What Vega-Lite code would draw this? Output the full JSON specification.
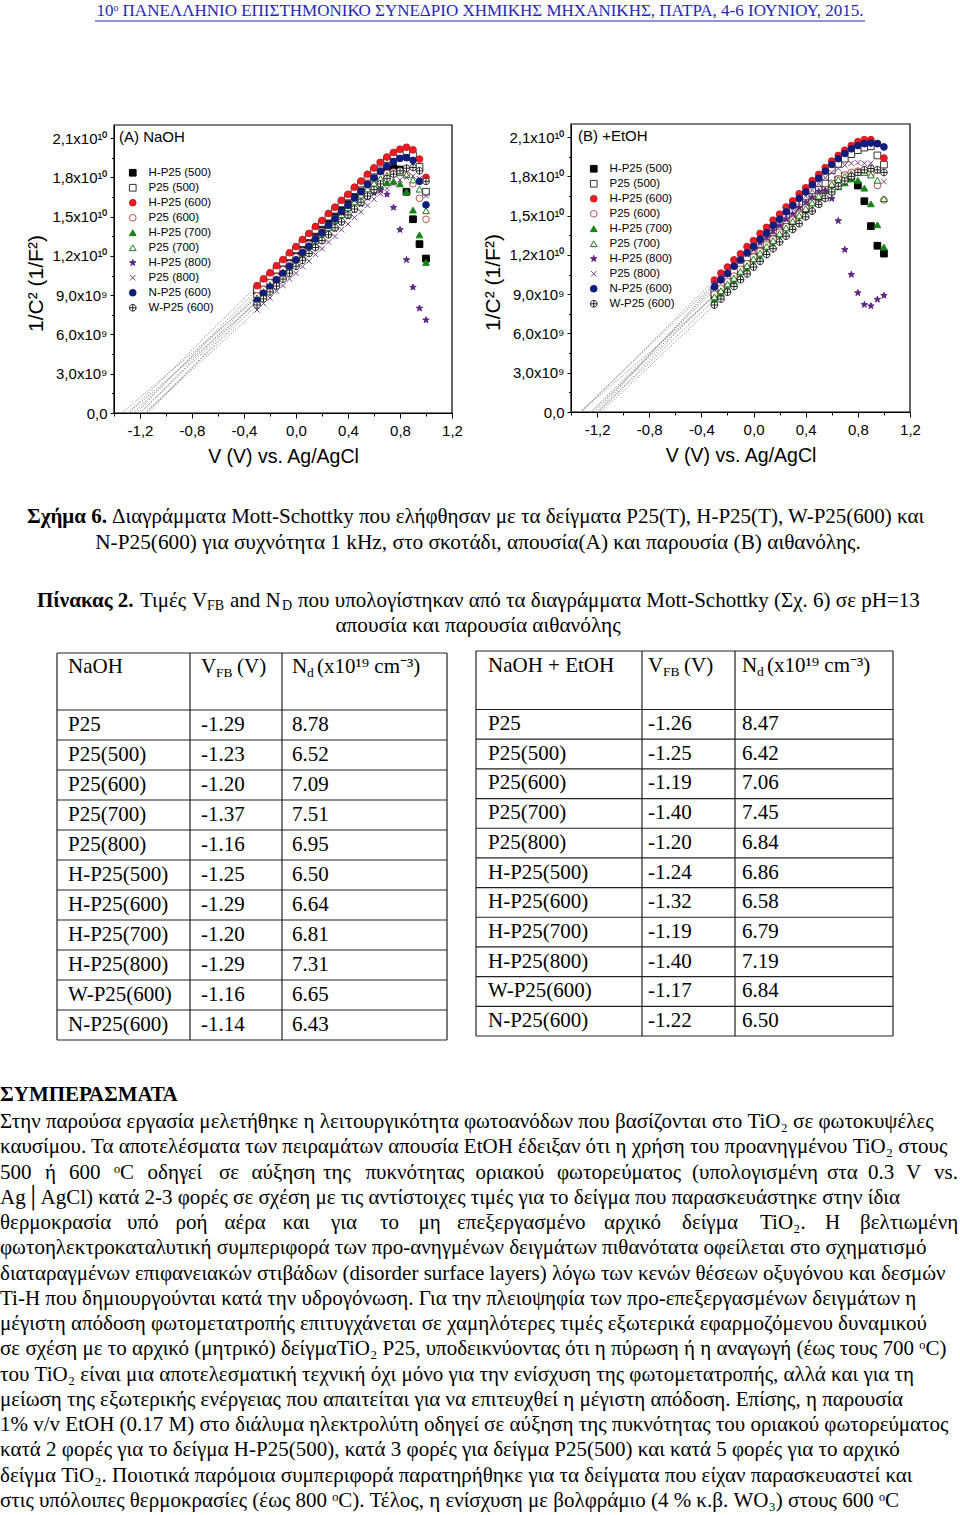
{
"$schema":"https://vega.github.io/schema/vega-lite/v6.json",
"width":960,"height":1515,"padding":0,"autosize":{"type":"none"},"background":"white",
"config":{"view":{"stroke":null},"axis":{"grid":false,"domainColor":"#000","tickColor":"#000","labelColor":"#000","titleColor":"#000","labelFont":"Liberation Sans","titleFont":"Liberation Sans","titleFontWeight":"normal"},"legend":{"labelFont":"Liberation Sans","titleFont":"Liberation Sans","titleFontWeight":"normal","labelColor":"#000","titleColor":"#000"}},
"datasets":{
"ptsA":[
{"s":"H-P25 (500)","v":-0.3,"c":9.10e9},{"s":"H-P25 (500)","v":-0.25,"c":9.62e9},{"s":"H-P25 (500)","v":-0.2,"c":10.06e9},{"s":"H-P25 (500)","v":-0.15,"c":10.58e9},{"s":"H-P25 (500)","v":-0.1,"c":11.04e9},{"s":"H-P25 (500)","v":-0.05,"c":11.57e9},{"s":"H-P25 (500)","v":0,"c":12.02e9},{"s":"H-P25 (500)","v":0.05,"c":12.55e9},{"s":"H-P25 (500)","v":0.1,"c":13.00e9},{"s":"H-P25 (500)","v":0.15,"c":13.52e9},{"s":"H-P25 (500)","v":0.2,"c":13.98e9},{"s":"H-P25 (500)","v":0.25,"c":14.51e9},{"s":"H-P25 (500)","v":0.3,"c":14.96e9},{"s":"H-P25 (500)","v":0.35,"c":15.49e9},{"s":"H-P25 (500)","v":0.4,"c":15.95e9},{"s":"H-P25 (500)","v":0.45,"c":16.47e9},{"s":"H-P25 (500)","v":0.5,"c":16.92e9},{"s":"H-P25 (500)","v":0.55,"c":17.44e9},{"s":"H-P25 (500)","v":0.6,"c":17.90e9},{"s":"H-P25 (500)","v":0.65,"c":18.30e9},{"s":"H-P25 (500)","v":0.7,"c":18.55e9},{"s":"H-P25 (500)","v":0.75,"c":18.70e9},{"s":"H-P25 (500)","v":0.8,"c":18.60e9},{"s":"H-P25 (500)","v":0.85,"c":16.90e9},{"s":"H-P25 (500)","v":0.9,"c":14.80e9},{"s":"H-P25 (500)","v":0.95,"c":12.90e9},{"s":"H-P25 (500)","v":1,"c":11.80e9},
{"s":"P25 (500)","v":-0.3,"c":9.45e9},{"s":"P25 (500)","v":-0.25,"c":9.94e9},{"s":"P25 (500)","v":-0.2,"c":10.47e9},{"s":"P25 (500)","v":-0.15,"c":10.95e9},{"s":"P25 (500)","v":-0.1,"c":11.49e9},{"s":"P25 (500)","v":-0.05,"c":11.97e9},{"s":"P25 (500)","v":0,"c":12.50e9},{"s":"P25 (500)","v":0.05,"c":12.98e9},{"s":"P25 (500)","v":0.1,"c":13.50e9},{"s":"P25 (500)","v":0.15,"c":13.99e9},{"s":"P25 (500)","v":0.2,"c":14.52e9},{"s":"P25 (500)","v":0.25,"c":15.00e9},{"s":"P25 (500)","v":0.3,"c":15.53e9},{"s":"P25 (500)","v":0.35,"c":16.01e9},{"s":"P25 (500)","v":0.4,"c":16.54e9},{"s":"P25 (500)","v":0.45,"c":17.02e9},{"s":"P25 (500)","v":0.5,"c":17.53e9},{"s":"P25 (500)","v":0.55,"c":18.05e9},{"s":"P25 (500)","v":0.6,"c":18.52e9},{"s":"P25 (500)","v":0.65,"c":19.05e9},{"s":"P25 (500)","v":0.7,"c":19.40e9},{"s":"P25 (500)","v":0.75,"c":19.70e9},{"s":"P25 (500)","v":0.8,"c":19.90e9},{"s":"P25 (500)","v":0.85,"c":20.00e9},{"s":"P25 (500)","v":0.9,"c":19.70e9},{"s":"P25 (500)","v":0.95,"c":18.80e9},{"s":"P25 (500)","v":1,"c":16.90e9},
{"s":"H-P25 (600)","v":-0.3,"c":9.73e9},{"s":"H-P25 (600)","v":-0.25,"c":10.25e9},{"s":"H-P25 (600)","v":-0.2,"c":10.71e9},{"s":"H-P25 (600)","v":-0.15,"c":11.25e9},{"s":"H-P25 (600)","v":-0.1,"c":11.72e9},{"s":"H-P25 (600)","v":-0.05,"c":12.24e9},{"s":"H-P25 (600)","v":0,"c":12.71e9},{"s":"H-P25 (600)","v":0.05,"c":13.25e9},{"s":"H-P25 (600)","v":0.1,"c":13.72e9},{"s":"H-P25 (600)","v":0.15,"c":14.25e9},{"s":"H-P25 (600)","v":0.2,"c":14.71e9},{"s":"H-P25 (600)","v":0.25,"c":15.24e9},{"s":"H-P25 (600)","v":0.3,"c":15.72e9},{"s":"H-P25 (600)","v":0.35,"c":16.25e9},{"s":"H-P25 (600)","v":0.4,"c":16.71e9},{"s":"H-P25 (600)","v":0.45,"c":17.25e9},{"s":"H-P25 (600)","v":0.5,"c":17.72e9},{"s":"H-P25 (600)","v":0.55,"c":18.24e9},{"s":"H-P25 (600)","v":0.6,"c":18.72e9},{"s":"H-P25 (600)","v":0.65,"c":19.15e9},{"s":"H-P25 (600)","v":0.7,"c":19.55e9},{"s":"H-P25 (600)","v":0.75,"c":19.90e9},{"s":"H-P25 (600)","v":0.8,"c":20.15e9},{"s":"H-P25 (600)","v":0.85,"c":20.30e9},{"s":"H-P25 (600)","v":0.9,"c":20.10e9},{"s":"H-P25 (600)","v":0.95,"c":19.40e9},{"s":"H-P25 (600)","v":1,"c":18.00e9},
{"s":"P25 (600)","v":-0.3,"c":8.95e9},{"s":"P25 (600)","v":-0.25,"c":9.42e9},{"s":"P25 (600)","v":-0.2,"c":9.95e9},{"s":"P25 (600)","v":-0.15,"c":10.40e9},{"s":"P25 (600)","v":-0.1,"c":10.93e9},{"s":"P25 (600)","v":-0.05,"c":11.38e9},{"s":"P25 (600)","v":0,"c":11.91e9},{"s":"P25 (600)","v":0.05,"c":12.36e9},{"s":"P25 (600)","v":0.1,"c":12.89e9},{"s":"P25 (600)","v":0.15,"c":13.34e9},{"s":"P25 (600)","v":0.2,"c":13.87e9},{"s":"P25 (600)","v":0.25,"c":14.32e9},{"s":"P25 (600)","v":0.3,"c":14.85e9},{"s":"P25 (600)","v":0.35,"c":15.30e9},{"s":"P25 (600)","v":0.4,"c":15.83e9},{"s":"P25 (600)","v":0.45,"c":16.28e9},{"s":"P25 (600)","v":0.5,"c":16.80e9},{"s":"P25 (600)","v":0.55,"c":17.27e9},{"s":"P25 (600)","v":0.6,"c":17.76e9},{"s":"P25 (600)","v":0.65,"c":18.10e9},{"s":"P25 (600)","v":0.7,"c":18.30e9},{"s":"P25 (600)","v":0.75,"c":18.40e9},{"s":"P25 (600)","v":0.8,"c":18.40e9},{"s":"P25 (600)","v":0.85,"c":18.20e9},{"s":"P25 (600)","v":0.9,"c":17.50e9},{"s":"P25 (600)","v":0.95,"c":16.40e9},{"s":"P25 (600)","v":1,"c":14.80e9},
{"s":"H-P25 (700)","v":-0.3,"c":8.60e9},{"s":"H-P25 (700)","v":-0.25,"c":9.09e9},{"s":"H-P25 (700)","v":-0.2,"c":9.52e9},{"s":"H-P25 (700)","v":-0.15,"c":10.03e9},{"s":"H-P25 (700)","v":-0.1,"c":10.46e9},{"s":"H-P25 (700)","v":-0.05,"c":10.97e9},{"s":"H-P25 (700)","v":0,"c":11.40e9},{"s":"H-P25 (700)","v":0.05,"c":11.91e9},{"s":"H-P25 (700)","v":0.1,"c":12.34e9},{"s":"H-P25 (700)","v":0.15,"c":12.85e9},{"s":"H-P25 (700)","v":0.2,"c":13.28e9},{"s":"H-P25 (700)","v":0.25,"c":13.79e9},{"s":"H-P25 (700)","v":0.3,"c":14.22e9},{"s":"H-P25 (700)","v":0.35,"c":14.73e9},{"s":"H-P25 (700)","v":0.4,"c":15.16e9},{"s":"H-P25 (700)","v":0.45,"c":15.67e9},{"s":"H-P25 (700)","v":0.5,"c":16.10e9},{"s":"H-P25 (700)","v":0.55,"c":16.60e9},{"s":"H-P25 (700)","v":0.6,"c":17.00e9},{"s":"H-P25 (700)","v":0.65,"c":17.35e9},{"s":"H-P25 (700)","v":0.7,"c":17.60e9},{"s":"H-P25 (700)","v":0.75,"c":17.70e9},{"s":"H-P25 (700)","v":0.8,"c":17.50e9},{"s":"H-P25 (700)","v":0.85,"c":16.90e9},{"s":"H-P25 (700)","v":0.9,"c":15.50e9},{"s":"H-P25 (700)","v":0.95,"c":13.60e9},{"s":"H-P25 (700)","v":1,"c":11.50e9},
{"s":"P25 (700)","v":-0.3,"c":8.80e9},{"s":"P25 (700)","v":-0.25,"c":9.27e9},{"s":"P25 (700)","v":-0.2,"c":9.80e9},{"s":"P25 (700)","v":-0.15,"c":10.25e9},{"s":"P25 (700)","v":-0.1,"c":10.78e9},{"s":"P25 (700)","v":-0.05,"c":11.23e9},{"s":"P25 (700)","v":0,"c":11.76e9},{"s":"P25 (700)","v":0.05,"c":12.21e9},{"s":"P25 (700)","v":0.1,"c":12.74e9},{"s":"P25 (700)","v":0.15,"c":13.19e9},{"s":"P25 (700)","v":0.2,"c":13.72e9},{"s":"P25 (700)","v":0.25,"c":14.17e9},{"s":"P25 (700)","v":0.3,"c":14.70e9},{"s":"P25 (700)","v":0.35,"c":15.15e9},{"s":"P25 (700)","v":0.4,"c":15.68e9},{"s":"P25 (700)","v":0.45,"c":16.13e9},{"s":"P25 (700)","v":0.5,"c":16.65e9},{"s":"P25 (700)","v":0.55,"c":17.12e9},{"s":"P25 (700)","v":0.6,"c":17.55e9},{"s":"P25 (700)","v":0.65,"c":17.90e9},{"s":"P25 (700)","v":0.7,"c":18.15e9},{"s":"P25 (700)","v":0.75,"c":18.30e9},{"s":"P25 (700)","v":0.8,"c":18.35e9},{"s":"P25 (700)","v":0.85,"c":18.20e9},{"s":"P25 (700)","v":0.9,"c":17.80e9},{"s":"P25 (700)","v":0.95,"c":17.10e9},{"s":"P25 (700)","v":1,"c":15.45e9},
{"s":"H-P25 (800)","v":-0.3,"c":8.45e9},{"s":"H-P25 (800)","v":-0.25,"c":8.94e9},{"s":"H-P25 (800)","v":-0.2,"c":9.37e9},{"s":"H-P25 (800)","v":-0.15,"c":9.88e9},{"s":"H-P25 (800)","v":-0.1,"c":10.31e9},{"s":"H-P25 (800)","v":-0.05,"c":10.82e9},{"s":"H-P25 (800)","v":0,"c":11.25e9},{"s":"H-P25 (800)","v":0.05,"c":11.76e9},{"s":"H-P25 (800)","v":0.1,"c":12.19e9},{"s":"H-P25 (800)","v":0.15,"c":12.70e9},{"s":"H-P25 (800)","v":0.2,"c":13.13e9},{"s":"H-P25 (800)","v":0.25,"c":13.64e9},{"s":"H-P25 (800)","v":0.3,"c":14.07e9},{"s":"H-P25 (800)","v":0.35,"c":14.58e9},{"s":"H-P25 (800)","v":0.4,"c":15.01e9},{"s":"H-P25 (800)","v":0.45,"c":15.52e9},{"s":"H-P25 (800)","v":0.5,"c":15.95e9},{"s":"H-P25 (800)","v":0.55,"c":16.45e9},{"s":"H-P25 (800)","v":0.6,"c":16.80e9},{"s":"H-P25 (800)","v":0.65,"c":17.00e9},{"s":"H-P25 (800)","v":0.7,"c":16.70e9},{"s":"H-P25 (800)","v":0.75,"c":15.70e9},{"s":"H-P25 (800)","v":0.8,"c":14.00e9},{"s":"H-P25 (800)","v":0.85,"c":11.70e9},{"s":"H-P25 (800)","v":0.9,"c":9.60e9},{"s":"H-P25 (800)","v":0.95,"c":8.00e9},{"s":"H-P25 (800)","v":1,"c":7.10e9},
{"s":"P25 (800)","v":-0.3,"c":7.87e9},{"s":"P25 (800)","v":-0.25,"c":8.36e9},{"s":"P25 (800)","v":-0.2,"c":8.79e9},{"s":"P25 (800)","v":-0.15,"c":9.30e9},{"s":"P25 (800)","v":-0.1,"c":9.73e9},{"s":"P25 (800)","v":-0.05,"c":10.24e9},{"s":"P25 (800)","v":0,"c":10.67e9},{"s":"P25 (800)","v":0.05,"c":11.18e9},{"s":"P25 (800)","v":0.1,"c":11.61e9},{"s":"P25 (800)","v":0.15,"c":12.12e9},{"s":"P25 (800)","v":0.2,"c":12.55e9},{"s":"P25 (800)","v":0.25,"c":13.06e9},{"s":"P25 (800)","v":0.3,"c":13.49e9},{"s":"P25 (800)","v":0.35,"c":14.00e9},{"s":"P25 (800)","v":0.4,"c":14.43e9},{"s":"P25 (800)","v":0.45,"c":14.94e9},{"s":"P25 (800)","v":0.5,"c":15.37e9},{"s":"P25 (800)","v":0.55,"c":15.87e9},{"s":"P25 (800)","v":0.6,"c":16.33e9},{"s":"P25 (800)","v":0.65,"c":16.75e9},{"s":"P25 (800)","v":0.7,"c":17.15e9},{"s":"P25 (800)","v":0.75,"c":17.50e9},{"s":"P25 (800)","v":0.8,"c":17.80e9},{"s":"P25 (800)","v":0.85,"c":18.00e9},{"s":"P25 (800)","v":0.9,"c":18.10e9},{"s":"P25 (800)","v":0.95,"c":17.90e9},{"s":"P25 (800)","v":1,"c":16.60e9},
{"s":"N-P25 (600)","v":-0.3,"c":8.60e9},{"s":"N-P25 (600)","v":-0.25,"c":9.14e9},{"s":"N-P25 (600)","v":-0.2,"c":9.62e9},{"s":"N-P25 (600)","v":-0.15,"c":10.18e9},{"s":"N-P25 (600)","v":-0.1,"c":10.66e9},{"s":"N-P25 (600)","v":-0.05,"c":11.22e9},{"s":"N-P25 (600)","v":0,"c":11.70e9},{"s":"N-P25 (600)","v":0.05,"c":12.26e9},{"s":"N-P25 (600)","v":0.1,"c":12.74e9},{"s":"N-P25 (600)","v":0.15,"c":13.30e9},{"s":"N-P25 (600)","v":0.2,"c":13.78e9},{"s":"N-P25 (600)","v":0.25,"c":14.34e9},{"s":"N-P25 (600)","v":0.3,"c":14.82e9},{"s":"N-P25 (600)","v":0.35,"c":15.38e9},{"s":"N-P25 (600)","v":0.4,"c":15.86e9},{"s":"N-P25 (600)","v":0.45,"c":16.42e9},{"s":"N-P25 (600)","v":0.5,"c":16.90e9},{"s":"N-P25 (600)","v":0.55,"c":17.45e9},{"s":"N-P25 (600)","v":0.6,"c":17.95e9},{"s":"N-P25 (600)","v":0.65,"c":18.45e9},{"s":"N-P25 (600)","v":0.7,"c":18.85e9},{"s":"N-P25 (600)","v":0.75,"c":19.20e9},{"s":"N-P25 (600)","v":0.8,"c":19.45e9},{"s":"N-P25 (600)","v":0.85,"c":19.50e9},{"s":"N-P25 (600)","v":0.9,"c":19.30e9},{"s":"N-P25 (600)","v":0.95,"c":17.70e9},{"s":"N-P25 (600)","v":1,"c":15.90e9},
{"s":"W-P25 (600)","v":-0.3,"c":8.25e9},{"s":"W-P25 (600)","v":-0.25,"c":8.72e9},{"s":"W-P25 (600)","v":-0.2,"c":9.25e9},{"s":"W-P25 (600)","v":-0.15,"c":9.70e9},{"s":"W-P25 (600)","v":-0.1,"c":10.23e9},{"s":"W-P25 (600)","v":-0.05,"c":10.68e9},{"s":"W-P25 (600)","v":0,"c":11.21e9},{"s":"W-P25 (600)","v":0.05,"c":11.66e9},{"s":"W-P25 (600)","v":0.1,"c":12.19e9},{"s":"W-P25 (600)","v":0.15,"c":12.64e9},{"s":"W-P25 (600)","v":0.2,"c":13.17e9},{"s":"W-P25 (600)","v":0.25,"c":13.62e9},{"s":"W-P25 (600)","v":0.3,"c":14.15e9},{"s":"W-P25 (600)","v":0.35,"c":14.60e9},{"s":"W-P25 (600)","v":0.4,"c":15.13e9},{"s":"W-P25 (600)","v":0.45,"c":15.58e9},{"s":"W-P25 (600)","v":0.5,"c":16.10e9},{"s":"W-P25 (600)","v":0.55,"c":16.57e9},{"s":"W-P25 (600)","v":0.6,"c":17.06e9},{"s":"W-P25 (600)","v":0.65,"c":17.50e9},{"s":"W-P25 (600)","v":0.7,"c":17.90e9},{"s":"W-P25 (600)","v":0.75,"c":18.25e9},{"s":"W-P25 (600)","v":0.8,"c":18.50e9},{"s":"W-P25 (600)","v":0.85,"c":18.70e9},{"s":"W-P25 (600)","v":0.9,"c":18.75e9},{"s":"W-P25 (600)","v":0.95,"c":18.50e9},{"s":"W-P25 (600)","v":1,"c":17.70e9}
],
"ptsB":[
{"s":"H-P25 (500)","v":-0.3,"c":8.95e9},{"s":"H-P25 (500)","v":-0.25,"c":9.44e9},{"s":"H-P25 (500)","v":-0.2,"c":9.87e9},{"s":"H-P25 (500)","v":-0.15,"c":10.38e9},{"s":"H-P25 (500)","v":-0.1,"c":10.81e9},{"s":"H-P25 (500)","v":-0.05,"c":11.32e9},{"s":"H-P25 (500)","v":0,"c":11.75e9},{"s":"H-P25 (500)","v":0.05,"c":12.26e9},{"s":"H-P25 (500)","v":0.1,"c":12.69e9},{"s":"H-P25 (500)","v":0.15,"c":13.20e9},{"s":"H-P25 (500)","v":0.2,"c":13.63e9},{"s":"H-P25 (500)","v":0.25,"c":14.14e9},{"s":"H-P25 (500)","v":0.3,"c":14.57e9},{"s":"H-P25 (500)","v":0.35,"c":15.08e9},{"s":"H-P25 (500)","v":0.4,"c":15.51e9},{"s":"H-P25 (500)","v":0.45,"c":16.02e9},{"s":"H-P25 (500)","v":0.5,"c":16.45e9},{"s":"H-P25 (500)","v":0.55,"c":16.95e9},{"s":"H-P25 (500)","v":0.6,"c":17.41e9},{"s":"H-P25 (500)","v":0.65,"c":17.75e9},{"s":"H-P25 (500)","v":0.7,"c":18.05e9},{"s":"H-P25 (500)","v":0.75,"c":18.00e9},{"s":"H-P25 (500)","v":0.8,"c":17.30e9},{"s":"H-P25 (500)","v":0.85,"c":16.10e9},{"s":"H-P25 (500)","v":0.9,"c":14.20e9},{"s":"H-P25 (500)","v":0.95,"c":12.70e9},{"s":"H-P25 (500)","v":1,"c":12.10e9},
{"s":"P25 (500)","v":-0.3,"c":9.30e9},{"s":"P25 (500)","v":-0.25,"c":9.79e9},{"s":"P25 (500)","v":-0.2,"c":10.34e9},{"s":"P25 (500)","v":-0.15,"c":10.81e9},{"s":"P25 (500)","v":-0.1,"c":11.36e9},{"s":"P25 (500)","v":-0.05,"c":11.83e9},{"s":"P25 (500)","v":0,"c":12.38e9},{"s":"P25 (500)","v":0.05,"c":12.85e9},{"s":"P25 (500)","v":0.1,"c":13.40e9},{"s":"P25 (500)","v":0.15,"c":13.87e9},{"s":"P25 (500)","v":0.2,"c":14.42e9},{"s":"P25 (500)","v":0.25,"c":14.89e9},{"s":"P25 (500)","v":0.3,"c":15.44e9},{"s":"P25 (500)","v":0.35,"c":15.91e9},{"s":"P25 (500)","v":0.4,"c":16.46e9},{"s":"P25 (500)","v":0.45,"c":16.93e9},{"s":"P25 (500)","v":0.5,"c":17.47e9},{"s":"P25 (500)","v":0.55,"c":17.96e9},{"s":"P25 (500)","v":0.6,"c":18.48e9},{"s":"P25 (500)","v":0.65,"c":18.95e9},{"s":"P25 (500)","v":0.7,"c":19.35e9},{"s":"P25 (500)","v":0.75,"c":19.70e9},{"s":"P25 (500)","v":0.8,"c":20.00e9},{"s":"P25 (500)","v":0.85,"c":20.20e9},{"s":"P25 (500)","v":0.9,"c":20.30e9},{"s":"P25 (500)","v":0.95,"c":19.60e9},{"s":"P25 (500)","v":1,"c":18.90e9},
{"s":"H-P25 (600)","v":-0.3,"c":10.08e9},{"s":"H-P25 (600)","v":-0.25,"c":10.61e9},{"s":"H-P25 (600)","v":-0.2,"c":11.07e9},{"s":"H-P25 (600)","v":-0.15,"c":11.62e9},{"s":"H-P25 (600)","v":-0.1,"c":12.08e9},{"s":"H-P25 (600)","v":-0.05,"c":12.63e9},{"s":"H-P25 (600)","v":0,"c":13.09e9},{"s":"H-P25 (600)","v":0.05,"c":13.64e9},{"s":"H-P25 (600)","v":0.1,"c":14.10e9},{"s":"H-P25 (600)","v":0.15,"c":14.65e9},{"s":"H-P25 (600)","v":0.2,"c":15.11e9},{"s":"H-P25 (600)","v":0.25,"c":15.66e9},{"s":"H-P25 (600)","v":0.3,"c":16.12e9},{"s":"H-P25 (600)","v":0.35,"c":16.67e9},{"s":"H-P25 (600)","v":0.4,"c":17.13e9},{"s":"H-P25 (600)","v":0.45,"c":17.68e9},{"s":"H-P25 (600)","v":0.5,"c":18.15e9},{"s":"H-P25 (600)","v":0.55,"c":18.67e9},{"s":"H-P25 (600)","v":0.6,"c":19.17e9},{"s":"H-P25 (600)","v":0.65,"c":19.60e9},{"s":"H-P25 (600)","v":0.7,"c":20.00e9},{"s":"H-P25 (600)","v":0.75,"c":20.35e9},{"s":"H-P25 (600)","v":0.8,"c":20.65e9},{"s":"H-P25 (600)","v":0.85,"c":20.80e9},{"s":"H-P25 (600)","v":0.9,"c":20.80e9},{"s":"H-P25 (600)","v":0.95,"c":20.50e9},{"s":"H-P25 (600)","v":1,"c":19.40e9},
{"s":"P25 (600)","v":-0.3,"c":9.00e9},{"s":"P25 (600)","v":-0.25,"c":9.45e9},{"s":"P25 (600)","v":-0.2,"c":9.96e9},{"s":"P25 (600)","v":-0.15,"c":10.39e9},{"s":"P25 (600)","v":-0.1,"c":10.90e9},{"s":"P25 (600)","v":-0.05,"c":11.33e9},{"s":"P25 (600)","v":0,"c":11.84e9},{"s":"P25 (600)","v":0.05,"c":12.27e9},{"s":"P25 (600)","v":0.1,"c":12.78e9},{"s":"P25 (600)","v":0.15,"c":13.21e9},{"s":"P25 (600)","v":0.2,"c":13.72e9},{"s":"P25 (600)","v":0.25,"c":14.15e9},{"s":"P25 (600)","v":0.3,"c":14.66e9},{"s":"P25 (600)","v":0.35,"c":15.09e9},{"s":"P25 (600)","v":0.4,"c":15.60e9},{"s":"P25 (600)","v":0.45,"c":16.03e9},{"s":"P25 (600)","v":0.5,"c":16.53e9},{"s":"P25 (600)","v":0.55,"c":16.98e9},{"s":"P25 (600)","v":0.6,"c":17.46e9},{"s":"P25 (600)","v":0.65,"c":17.80e9},{"s":"P25 (600)","v":0.7,"c":18.10e9},{"s":"P25 (600)","v":0.75,"c":18.30e9},{"s":"P25 (600)","v":0.8,"c":18.40e9},{"s":"P25 (600)","v":0.85,"c":18.40e9},{"s":"P25 (600)","v":0.9,"c":18.20e9},{"s":"P25 (600)","v":0.95,"c":17.30e9},{"s":"P25 (600)","v":1,"c":16.20e9},
{"s":"H-P25 (700)","v":-0.3,"c":8.57e9},{"s":"H-P25 (700)","v":-0.25,"c":9.05e9},{"s":"H-P25 (700)","v":-0.2,"c":9.47e9},{"s":"H-P25 (700)","v":-0.15,"c":9.97e9},{"s":"H-P25 (700)","v":-0.1,"c":10.39e9},{"s":"H-P25 (700)","v":-0.05,"c":10.89e9},{"s":"H-P25 (700)","v":0,"c":11.31e9},{"s":"H-P25 (700)","v":0.05,"c":11.81e9},{"s":"H-P25 (700)","v":0.1,"c":12.23e9},{"s":"H-P25 (700)","v":0.15,"c":12.73e9},{"s":"H-P25 (700)","v":0.2,"c":13.15e9},{"s":"H-P25 (700)","v":0.25,"c":13.65e9},{"s":"H-P25 (700)","v":0.3,"c":14.07e9},{"s":"H-P25 (700)","v":0.35,"c":14.57e9},{"s":"H-P25 (700)","v":0.4,"c":14.99e9},{"s":"H-P25 (700)","v":0.45,"c":15.49e9},{"s":"H-P25 (700)","v":0.5,"c":15.92e9},{"s":"H-P25 (700)","v":0.55,"c":16.39e9},{"s":"H-P25 (700)","v":0.6,"c":16.85e9},{"s":"H-P25 (700)","v":0.65,"c":17.20e9},{"s":"H-P25 (700)","v":0.7,"c":17.50e9},{"s":"H-P25 (700)","v":0.75,"c":17.80e9},{"s":"H-P25 (700)","v":0.8,"c":17.70e9},{"s":"H-P25 (700)","v":0.85,"c":17.10e9},{"s":"H-P25 (700)","v":0.9,"c":15.90e9},{"s":"H-P25 (700)","v":0.95,"c":14.30e9},{"s":"H-P25 (700)","v":1,"c":12.60e9},
{"s":"P25 (700)","v":-0.3,"c":8.80e9},{"s":"P25 (700)","v":-0.25,"c":9.26e9},{"s":"P25 (700)","v":-0.2,"c":9.78e9},{"s":"P25 (700)","v":-0.15,"c":10.22e9},{"s":"P25 (700)","v":-0.1,"c":10.74e9},{"s":"P25 (700)","v":-0.05,"c":11.18e9},{"s":"P25 (700)","v":0,"c":11.70e9},{"s":"P25 (700)","v":0.05,"c":12.14e9},{"s":"P25 (700)","v":0.1,"c":12.66e9},{"s":"P25 (700)","v":0.15,"c":13.10e9},{"s":"P25 (700)","v":0.2,"c":13.62e9},{"s":"P25 (700)","v":0.25,"c":14.06e9},{"s":"P25 (700)","v":0.3,"c":14.58e9},{"s":"P25 (700)","v":0.35,"c":15.02e9},{"s":"P25 (700)","v":0.4,"c":15.54e9},{"s":"P25 (700)","v":0.45,"c":15.98e9},{"s":"P25 (700)","v":0.5,"c":16.49e9},{"s":"P25 (700)","v":0.55,"c":16.95e9},{"s":"P25 (700)","v":0.6,"c":17.40e9},{"s":"P25 (700)","v":0.65,"c":17.75e9},{"s":"P25 (700)","v":0.7,"c":18.00e9},{"s":"P25 (700)","v":0.75,"c":18.20e9},{"s":"P25 (700)","v":0.8,"c":18.30e9},{"s":"P25 (700)","v":0.85,"c":18.30e9},{"s":"P25 (700)","v":0.9,"c":18.10e9},{"s":"P25 (700)","v":0.95,"c":17.70e9},{"s":"P25 (700)","v":1,"c":16.30e9},
{"s":"H-P25 (800)","v":-0.3,"c":9.80e9},{"s":"H-P25 (800)","v":-0.25,"c":10.27e9},{"s":"H-P25 (800)","v":-0.2,"c":10.67e9},{"s":"H-P25 (800)","v":-0.15,"c":11.16e9},{"s":"H-P25 (800)","v":-0.1,"c":11.56e9},{"s":"H-P25 (800)","v":-0.05,"c":12.05e9},{"s":"H-P25 (800)","v":0,"c":12.45e9},{"s":"H-P25 (800)","v":0.05,"c":12.94e9},{"s":"H-P25 (800)","v":0.1,"c":13.34e9},{"s":"H-P25 (800)","v":0.15,"c":13.83e9},{"s":"H-P25 (800)","v":0.2,"c":14.23e9},{"s":"H-P25 (800)","v":0.25,"c":14.72e9},{"s":"H-P25 (800)","v":0.3,"c":15.12e9},{"s":"H-P25 (800)","v":0.35,"c":15.61e9},{"s":"H-P25 (800)","v":0.4,"c":16.01e9},{"s":"H-P25 (800)","v":0.45,"c":16.40e9},{"s":"H-P25 (800)","v":0.5,"c":16.85e9},{"s":"H-P25 (800)","v":0.55,"c":16.90e9},{"s":"H-P25 (800)","v":0.6,"c":16.30e9},{"s":"H-P25 (800)","v":0.65,"c":14.60e9},{"s":"H-P25 (800)","v":0.7,"c":12.40e9},{"s":"H-P25 (800)","v":0.75,"c":10.50e9},{"s":"H-P25 (800)","v":0.8,"c":9.10e9},{"s":"H-P25 (800)","v":0.85,"c":8.20e9},{"s":"H-P25 (800)","v":0.9,"c":8.10e9},{"s":"H-P25 (800)","v":0.95,"c":8.60e9},{"s":"H-P25 (800)","v":1,"c":8.90e9},
{"s":"P25 (800)","v":-0.3,"c":9.75e9},{"s":"P25 (800)","v":-0.25,"c":10.21e9},{"s":"P25 (800)","v":-0.2,"c":10.73e9},{"s":"P25 (800)","v":-0.15,"c":11.17e9},{"s":"P25 (800)","v":-0.1,"c":11.69e9},{"s":"P25 (800)","v":-0.05,"c":12.13e9},{"s":"P25 (800)","v":0,"c":12.65e9},{"s":"P25 (800)","v":0.05,"c":13.09e9},{"s":"P25 (800)","v":0.1,"c":13.61e9},{"s":"P25 (800)","v":0.15,"c":14.05e9},{"s":"P25 (800)","v":0.2,"c":14.57e9},{"s":"P25 (800)","v":0.25,"c":15.01e9},{"s":"P25 (800)","v":0.3,"c":15.53e9},{"s":"P25 (800)","v":0.35,"c":15.97e9},{"s":"P25 (800)","v":0.4,"c":16.49e9},{"s":"P25 (800)","v":0.45,"c":16.93e9},{"s":"P25 (800)","v":0.5,"c":17.44e9},{"s":"P25 (800)","v":0.55,"c":17.90e9},{"s":"P25 (800)","v":0.6,"c":18.30e9},{"s":"P25 (800)","v":0.65,"c":18.60e9},{"s":"P25 (800)","v":0.7,"c":18.85e9},{"s":"P25 (800)","v":0.75,"c":19.00e9},{"s":"P25 (800)","v":0.8,"c":19.05e9},{"s":"P25 (800)","v":0.85,"c":19.00e9},{"s":"P25 (800)","v":0.9,"c":19.00e9},{"s":"P25 (800)","v":0.95,"c":18.40e9},{"s":"P25 (800)","v":1,"c":17.60e9},
{"s":"N-P25 (600)","v":-0.3,"c":9.55e9},{"s":"N-P25 (600)","v":-0.25,"c":10.09e9},{"s":"N-P25 (600)","v":-0.2,"c":10.57e9},{"s":"N-P25 (600)","v":-0.15,"c":11.13e9},{"s":"N-P25 (600)","v":-0.1,"c":11.61e9},{"s":"N-P25 (600)","v":-0.05,"c":12.17e9},{"s":"N-P25 (600)","v":0,"c":12.65e9},{"s":"N-P25 (600)","v":0.05,"c":13.21e9},{"s":"N-P25 (600)","v":0.1,"c":13.69e9},{"s":"N-P25 (600)","v":0.15,"c":14.25e9},{"s":"N-P25 (600)","v":0.2,"c":14.73e9},{"s":"N-P25 (600)","v":0.25,"c":15.29e9},{"s":"N-P25 (600)","v":0.3,"c":15.77e9},{"s":"N-P25 (600)","v":0.35,"c":16.33e9},{"s":"N-P25 (600)","v":0.4,"c":16.81e9},{"s":"N-P25 (600)","v":0.45,"c":17.37e9},{"s":"N-P25 (600)","v":0.5,"c":17.86e9},{"s":"N-P25 (600)","v":0.55,"c":18.40e9},{"s":"N-P25 (600)","v":0.6,"c":18.91e9},{"s":"N-P25 (600)","v":0.65,"c":19.35e9},{"s":"N-P25 (600)","v":0.7,"c":19.75e9},{"s":"N-P25 (600)","v":0.75,"c":20.10e9},{"s":"N-P25 (600)","v":0.8,"c":20.35e9},{"s":"N-P25 (600)","v":0.85,"c":20.50e9},{"s":"N-P25 (600)","v":0.9,"c":20.55e9},{"s":"N-P25 (600)","v":0.95,"c":20.50e9},{"s":"N-P25 (600)","v":1,"c":20.25e9},
{"s":"W-P25 (600)","v":-0.3,"c":8.17e9},{"s":"W-P25 (600)","v":-0.25,"c":8.63e9},{"s":"W-P25 (600)","v":-0.2,"c":9.15e9},{"s":"W-P25 (600)","v":-0.15,"c":9.59e9},{"s":"W-P25 (600)","v":-0.1,"c":10.11e9},{"s":"W-P25 (600)","v":-0.05,"c":10.55e9},{"s":"W-P25 (600)","v":0,"c":11.07e9},{"s":"W-P25 (600)","v":0.05,"c":11.51e9},{"s":"W-P25 (600)","v":0.1,"c":12.03e9},{"s":"W-P25 (600)","v":0.15,"c":12.47e9},{"s":"W-P25 (600)","v":0.2,"c":12.99e9},{"s":"W-P25 (600)","v":0.25,"c":13.43e9},{"s":"W-P25 (600)","v":0.3,"c":13.95e9},{"s":"W-P25 (600)","v":0.35,"c":14.39e9},{"s":"W-P25 (600)","v":0.4,"c":14.91e9},{"s":"W-P25 (600)","v":0.45,"c":15.35e9},{"s":"W-P25 (600)","v":0.5,"c":15.86e9},{"s":"W-P25 (600)","v":0.55,"c":16.32e9},{"s":"W-P25 (600)","v":0.6,"c":16.81e9},{"s":"W-P25 (600)","v":0.65,"c":17.25e9},{"s":"W-P25 (600)","v":0.7,"c":17.65e9},{"s":"W-P25 (600)","v":0.75,"c":18.00e9},{"s":"W-P25 (600)","v":0.8,"c":18.30e9},{"s":"W-P25 (600)","v":0.85,"c":18.50e9},{"s":"W-P25 (600)","v":0.9,"c":18.60e9},{"s":"W-P25 (600)","v":0.95,"c":18.50e9},{"s":"W-P25 (600)","v":1,"c":18.30e9}
],
"fitA":[
{"s":"H-P25 (500)","v":-1.25,"c":0},{"s":"H-P25 (500)","v":-0.3,"c":9.10e9},
{"s":"P25 (500)","v":-1.23,"c":0},{"s":"P25 (500)","v":-0.3,"c":9.45e9},
{"s":"H-P25 (600)","v":-1.29,"c":0},{"s":"H-P25 (600)","v":-0.3,"c":9.73e9},
{"s":"P25 (600)","v":-1.20,"c":0},{"s":"P25 (600)","v":-0.3,"c":8.95e9},
{"s":"H-P25 (700)","v":-1.20,"c":0},{"s":"H-P25 (700)","v":-0.3,"c":8.60e9},
{"s":"P25 (700)","v":-1.34,"c":0},{"s":"P25 (700)","v":-0.3,"c":8.80e9},
{"s":"H-P25 (800)","v":-1.29,"c":0},{"s":"H-P25 (800)","v":-0.3,"c":8.45e9},
{"s":"P25 (800)","v":-1.16,"c":0},{"s":"P25 (800)","v":-0.3,"c":7.87e9},
{"s":"N-P25 (600)","v":-1.14,"c":0},{"s":"N-P25 (600)","v":-0.3,"c":8.60e9},
{"s":"W-P25 (600)","v":-1.16,"c":0},{"s":"W-P25 (600)","v":-0.3,"c":8.25e9}
],
"fitB":[
{"s":"H-P25 (500)","v":-1.24,"c":0},{"s":"H-P25 (500)","v":-0.3,"c":8.95e9},
{"s":"P25 (500)","v":-1.25,"c":0},{"s":"P25 (500)","v":-0.3,"c":9.30e9},
{"s":"H-P25 (600)","v":-1.32,"c":0},{"s":"H-P25 (600)","v":-0.3,"c":10.08e9},
{"s":"P25 (600)","v":-1.19,"c":0},{"s":"P25 (600)","v":-0.3,"c":9.00e9},
{"s":"H-P25 (700)","v":-1.19,"c":0},{"s":"H-P25 (700)","v":-0.3,"c":8.57e9},
{"s":"P25 (700)","v":-1.33,"c":0},{"s":"P25 (700)","v":-0.3,"c":8.80e9},
{"s":"H-P25 (800)","v":-1.33,"c":0},{"s":"H-P25 (800)","v":-0.3,"c":9.80e9},
{"s":"P25 (800)","v":-1.20,"c":0},{"s":"P25 (800)","v":-0.3,"c":9.75e9},
{"s":"N-P25 (600)","v":-1.22,"c":0},{"s":"N-P25 (600)","v":-0.3,"c":9.55e9},
{"s":"W-P25 (600)","v":-1.17,"c":0},{"s":"W-P25 (600)","v":-0.3,"c":8.17e9}
],
"doc":[
{"ln":0,"role":"header","col":0,"text":"10ᵒ ΠΑΝΕΛΛΗΝΙΟ ΕΠΙΣΤΗΜΟΝΙΚΟ ΣΥΝΕΔΡΙΟ ΧΗΜΙΚΗΣ ΜΗΧΑΝΙΚΗΣ, ΠΑΤΡΑ, 4-6 ΙΟΥΝΙΟΥ, 2015."},
{"ln":1,"role":"label","col":0,"text":"Σχήμα 6."},
{"ln":1,"role":"body","col":1,"text":"Διαγράμματα Mott-Schottky που ελήφθησαν με τα δείγματα P25(T), H-P25(T), W-P25(600) και"},
{"ln":2,"role":"centered","col":0,"text":"N-P25(600) για συχνότητα 1 kHz, στο σκοτάδι, απουσία(A)  και παρουσία (B)  αιθανόλης."},
{"ln":3,"role":"label","col":2,"text":"Πίνακας 2."},
{"ln":3,"role":"body","col":3,"text":"Τιμές"},
{"ln":3,"role":"body","col":9,"text":"V"},
{"ln":3,"role":"sub","col":4,"text":"FB"},
{"ln":3,"role":"body","col":5,"text":"and N"},
{"ln":3,"role":"sub","col":6,"text":"D"},
{"ln":3,"role":"body","col":7,"text":"που υπολογίστηκαν από τα διαγράμματα Mott-Schottky (Σχ. 6) σε pH=13"},
{"ln":4,"role":"centered","col":0,"text":"απουσία και παρουσία αιθανόλης"},
{"ln":5,"role":"label","col":8,"text":"ΣΥΜΠΕΡΑΣΜΑΤΑ"},
{"ln":6,"role":"body","col":8,"text":"Στην παρούσα εργασία μελετήθηκε η λειτουργικότητα φωτοανόδων που βασίζονται στο TiO₂ σε φωτοκυψέλες"},
{"ln":7,"role":"body","col":8,"text":"καυσίμου. Τα αποτελέσματα των πειραμάτων απουσία EtOH έδειξαν ότι η χρήση του προανηγμένου TiO₂ στους"},
{"ln":8,"role":"word","w":0,"text":"500"},{"ln":8,"role":"word","w":1,"text":"ή"},{"ln":8,"role":"word","w":2,"text":"600"},{"ln":8,"role":"word","w":3,"text":"ᵒC"},{"ln":8,"role":"word","w":4,"text":"οδηγεί"},{"ln":8,"role":"word","w":5,"text":"σε"},{"ln":8,"role":"word","w":6,"text":"αύξηση"},{"ln":8,"role":"word","w":7,"text":"της"},{"ln":8,"role":"word","w":8,"text":"πυκνότητας"},{"ln":8,"role":"word","w":9,"text":"οριακού"},{"ln":8,"role":"word","w":10,"text":"φωτορεύματος"},{"ln":8,"role":"word","w":11,"text":"(υπολογισμένη"},{"ln":8,"role":"word","w":12,"text":"στα"},{"ln":8,"role":"word","w":13,"text":"0.3"},{"ln":8,"role":"word","w":14,"text":"V"},{"ln":8,"role":"word","w":15,"text":"vs."},
{"ln":9,"role":"body","col":8,"text":"Ag│AgCl) κατά 2-3 φορές σε σχέση με τις αντίστοιχες τιμές για το δείγμα που παρασκευάστηκε στην ίδια"},
{"ln":10,"role":"word","w":16,"text":"θερμοκρασία"},{"ln":10,"role":"word","w":17,"text":"υπό"},{"ln":10,"role":"word","w":18,"text":"ροή"},{"ln":10,"role":"word","w":19,"text":"αέρα"},{"ln":10,"role":"word","w":20,"text":"και"},{"ln":10,"role":"word","w":21,"text":"για"},{"ln":10,"role":"word","w":22,"text":"το"},{"ln":10,"role":"word","w":23,"text":"μη"},{"ln":10,"role":"word","w":24,"text":"επεξεργασμένο"},{"ln":10,"role":"word","w":25,"text":"αρχικό"},{"ln":10,"role":"word","w":26,"text":"δείγμα"},{"ln":10,"role":"word","w":27,"text":"TiO₂."},{"ln":10,"role":"word","w":28,"text":"Η"},{"ln":10,"role":"word","w":29,"text":"βελτιωμένη"},
{"ln":11,"role":"body","col":8,"text":"φωτοηλεκτροκαταλυτική συμπεριφορά των προ-ανηγμένων δειγμάτων πιθανότατα οφείλεται στο σχηματισμό"},
{"ln":12,"role":"body","col":8,"text":"διαταραγμένων επιφανειακών στιβάδων (disorder surface layers) λόγω των κενών θέσεων οξυγόνου και δεσμών"},
{"ln":13,"role":"body","col":8,"text":"Ti-H που δημιουργούνται κατά την υδρογόνωση. Για την πλειοψηφία των προ-επεξεργασμένων δειγμάτων η"},
{"ln":14,"role":"body","col":8,"text":"μέγιστη απόδοση φωτομετατροπής επιτυγχάνεται σε χαμηλότερες τιμές εξωτερικά εφαρμοζόμενου δυναμικού"},
{"ln":15,"role":"body","col":8,"text":"σε σχέση με το αρχικό (μητρικό) δείγμαTiO₂ P25, υποδεικνύοντας ότι η πύρωση ή η αναγωγή (έως τους 700 ᵒC)"},
{"ln":16,"role":"body","col":8,"text":"του TiO₂ είναι μια αποτελεσματική τεχνική όχι μόνο για την ενίσχυση της φωτομετατροπής, αλλά και για τη"},
{"ln":17,"role":"body","col":8,"text":"μείωση της εξωτερικής ενέργειας που απαιτείται για να επιτευχθεί η μέγιστη απόδοση. Επίσης, η παρουσία"},
{"ln":18,"role":"body","col":8,"text":"1% v/v EtOH (0.17 M) στο διάλυμα ηλεκτρολύτη οδηγεί σε αύξηση της πυκνότητας του οριακού φωτορεύματος"},
{"ln":19,"role":"body","col":8,"text":"κατά 2 φορές για το δείγμα H-P25(500), κατά 3 φορές για δείγμα P25(500) και κατά 5 φορές για το αρχικό"},
{"ln":20,"role":"body","col":8,"text":"δείγμα TiO₂. Ποιοτικά παρόμοια συμπεριφορά παρατηρήθηκε για τα δείγματα που είχαν παρασκευαστεί και"},
{"ln":21,"role":"body","col":8,"text":"στις υπόλοιπες θερμοκρασίες (έως 800 ᵒC). Τέλος, η ενίσχυση με βολφράμιο (4 % κ.β. WO₃) στους 600 ᵒC"}
],
"tab":[
{"t":"A","r":0,"c":0,"role":"cell","text":"NaOH"},{"t":"A","r":0,"c":1,"role":"cell","text":"V"},{"t":"A","r":0,"c":2,"role":"cell","text":"N"},
{"t":"A","r":0,"c":1,"role":"sub","text":"FB"},{"t":"A","r":0,"c":2,"role":"sub","text":"d"},
{"t":"A","r":0,"c":1,"role":"tail","text":"(V)"},{"t":"A","r":0,"c":2,"role":"tail","text":"(x10¹⁹ cm⁻³)"},
{"t":"A","r":1,"c":0,"role":"cell","text":"P25"},{"t":"A","r":1,"c":1,"role":"cell","text":"-1.29"},{"t":"A","r":1,"c":2,"role":"cell","text":"8.78"},
{"t":"A","r":2,"c":0,"role":"cell","text":" P25(500)"},{"t":"A","r":2,"c":1,"role":"cell","text":"-1.23"},{"t":"A","r":2,"c":2,"role":"cell","text":"6.52"},
{"t":"A","r":3,"c":0,"role":"cell","text":"P25(600)"},{"t":"A","r":3,"c":1,"role":"cell","text":"-1.20"},{"t":"A","r":3,"c":2,"role":"cell","text":"7.09"},
{"t":"A","r":4,"c":0,"role":"cell","text":"P25(700)"},{"t":"A","r":4,"c":1,"role":"cell","text":"-1.37"},{"t":"A","r":4,"c":2,"role":"cell","text":"7.51"},
{"t":"A","r":5,"c":0,"role":"cell","text":"P25(800)"},{"t":"A","r":5,"c":1,"role":"cell","text":"-1.16"},{"t":"A","r":5,"c":2,"role":"cell","text":"6.95"},
{"t":"A","r":6,"c":0,"role":"cell","text":"H-P25(500)"},{"t":"A","r":6,"c":1,"role":"cell","text":"-1.25"},{"t":"A","r":6,"c":2,"role":"cell","text":"6.50"},
{"t":"A","r":7,"c":0,"role":"cell","text":"H-P25(600)"},{"t":"A","r":7,"c":1,"role":"cell","text":"-1.29"},{"t":"A","r":7,"c":2,"role":"cell","text":"6.64"},
{"t":"A","r":8,"c":0,"role":"cell","text":"H-P25(700)"},{"t":"A","r":8,"c":1,"role":"cell","text":"-1.20"},{"t":"A","r":8,"c":2,"role":"cell","text":"6.81"},
{"t":"A","r":9,"c":0,"role":"cell","text":"H-P25(800)"},{"t":"A","r":9,"c":1,"role":"cell","text":"-1.29"},{"t":"A","r":9,"c":2,"role":"cell","text":"7.31"},
{"t":"A","r":10,"c":0,"role":"cell","text":"W-P25(600)"},{"t":"A","r":10,"c":1,"role":"cell","text":"-1.16"},{"t":"A","r":10,"c":2,"role":"cell","text":"6.65"},
{"t":"A","r":11,"c":0,"role":"cell","text":"N-P25(600)"},{"t":"A","r":11,"c":1,"role":"cell","text":"-1.14"},{"t":"A","r":11,"c":2,"role":"cell","text":"6.43"},
{"t":"B","r":0,"c":0,"role":"cell","text":"NaOH + EtOH"},{"t":"B","r":0,"c":1,"role":"cell","text":"V"},{"t":"B","r":0,"c":2,"role":"cell","text":"N"},
{"t":"B","r":0,"c":1,"role":"sub","text":"FB"},{"t":"B","r":0,"c":2,"role":"sub","text":"d"},
{"t":"B","r":0,"c":1,"role":"tail","text":"(V)"},{"t":"B","r":0,"c":2,"role":"tail","text":"(x10¹⁹ cm⁻³)"},
{"t":"B","r":1,"c":0,"role":"cell","text":"P25"},{"t":"B","r":1,"c":1,"role":"cell","text":"-1.26"},{"t":"B","r":1,"c":2,"role":"cell","text":"8.47"},
{"t":"B","r":2,"c":0,"role":"cell","text":"P25(500)"},{"t":"B","r":2,"c":1,"role":"cell","text":"-1.25"},{"t":"B","r":2,"c":2,"role":"cell","text":"6.42"},
{"t":"B","r":3,"c":0,"role":"cell","text":"P25(600)"},{"t":"B","r":3,"c":1,"role":"cell","text":"-1.19"},{"t":"B","r":3,"c":2,"role":"cell","text":"7.06"},
{"t":"B","r":4,"c":0,"role":"cell","text":"P25(700)"},{"t":"B","r":4,"c":1,"role":"cell","text":"-1.40"},{"t":"B","r":4,"c":2,"role":"cell","text":"7.45"},
{"t":"B","r":5,"c":0,"role":"cell","text":"P25(800)"},{"t":"B","r":5,"c":1,"role":"cell","text":"-1.20"},{"t":"B","r":5,"c":2,"role":"cell","text":"6.84"},
{"t":"B","r":6,"c":0,"role":"cell","text":"H-P25(500)"},{"t":"B","r":6,"c":1,"role":"cell","text":"-1.24"},{"t":"B","r":6,"c":2,"role":"cell","text":"6.86"},
{"t":"B","r":7,"c":0,"role":"cell","text":"H-P25(600)"},{"t":"B","r":7,"c":1,"role":"cell","text":"-1.32"},{"t":"B","r":7,"c":2,"role":"cell","text":"6.58"},
{"t":"B","r":8,"c":0,"role":"cell","text":"H-P25(700)"},{"t":"B","r":8,"c":1,"role":"cell","text":"-1.19"},{"t":"B","r":8,"c":2,"role":"cell","text":"6.79"},
{"t":"B","r":9,"c":0,"role":"cell","text":"H-P25(800)"},{"t":"B","r":9,"c":1,"role":"cell","text":"-1.40"},{"t":"B","r":9,"c":2,"role":"cell","text":"7.19"},
{"t":"B","r":10,"c":0,"role":"cell","text":"W-P25(600)"},{"t":"B","r":10,"c":1,"role":"cell","text":"-1.17"},{"t":"B","r":10,"c":2,"role":"cell","text":"6.84"},
{"t":"B","r":11,"c":0,"role":"cell","text":"N-P25(600)"},{"t":"B","r":11,"c":1,"role":"cell","text":"-1.22"},{"t":"B","r":11,"c":2,"role":"cell","text":"6.50"}
],
"grid":[
{"t":"A","x0":0,"x1":3,"y0":0,"y1":0},{"t":"A","x0":0,"x1":3,"y0":1,"y1":1},{"t":"A","x0":0,"x1":3,"y0":2,"y1":2},{"t":"A","x0":0,"x1":3,"y0":3,"y1":3},{"t":"A","x0":0,"x1":3,"y0":4,"y1":4},{"t":"A","x0":0,"x1":3,"y0":5,"y1":5},{"t":"A","x0":0,"x1":3,"y0":6,"y1":6},{"t":"A","x0":0,"x1":3,"y0":7,"y1":7},{"t":"A","x0":0,"x1":3,"y0":8,"y1":8},{"t":"A","x0":0,"x1":3,"y0":9,"y1":9},{"t":"A","x0":0,"x1":3,"y0":10,"y1":10},{"t":"A","x0":0,"x1":3,"y0":11,"y1":11},{"t":"A","x0":0,"x1":3,"y0":12,"y1":12},
{"t":"A","x0":0,"x1":0,"y0":0,"y1":12},{"t":"A","x0":1,"x1":1,"y0":0,"y1":12},{"t":"A","x0":2,"x1":2,"y0":0,"y1":12},{"t":"A","x0":3,"x1":3,"y0":0,"y1":12},
{"t":"B","x0":0,"x1":3,"y0":0,"y1":0},{"t":"B","x0":0,"x1":3,"y0":1,"y1":1},{"t":"B","x0":0,"x1":3,"y0":2,"y1":2},{"t":"B","x0":0,"x1":3,"y0":3,"y1":3},{"t":"B","x0":0,"x1":3,"y0":4,"y1":4},{"t":"B","x0":0,"x1":3,"y0":5,"y1":5},{"t":"B","x0":0,"x1":3,"y0":6,"y1":6},{"t":"B","x0":0,"x1":3,"y0":7,"y1":7},{"t":"B","x0":0,"x1":3,"y0":8,"y1":8},{"t":"B","x0":0,"x1":3,"y0":9,"y1":9},{"t":"B","x0":0,"x1":3,"y0":10,"y1":10},{"t":"B","x0":0,"x1":3,"y0":11,"y1":11},{"t":"B","x0":0,"x1":3,"y0":12,"y1":12},
{"t":"B","x0":0,"x1":0,"y0":0,"y1":12},{"t":"B","x0":1,"x1":1,"y0":0,"y1":12},{"t":"B","x0":2,"x1":2,"y0":0,"y1":12},{"t":"B","x0":3,"x1":3,"y0":0,"y1":12}
]
},
"layer":[
{"layer":[
 {"data":{"values":[{"frame":"A"}]},"mark":{"type":"rect","fill":"transparent","stroke":"#000","strokeWidth":1.2},
  "encoding":{"x":{"datum":-1.4,"type":"quantitative","scale":{"domain":[-1.4,1.2],"range":[114,452],"nice":false,"zero":false},
     "axis":{"orient":"bottom","offset":-1102,"values":[-1.4,-1.0,-0.6,-0.2,0.2,0.6,1.0],"labels":false,"title":null,"domain":false,"tickSize":3}},"x2":{"datum":1.2},
   "y":{"datum":0,"type":"quantitative","scale":{"domain":[0,2.2e10],"range":[413,125],"nice":false,"zero":false},
     "axis":{"orient":"left","offset":-114,"values":[1.5e9,4.5e9,7.5e9,1.05e10,1.35e10,1.65e10,1.95e10],"labels":false,"title":null,"domain":false,"tickSize":2.5}},"y2":{"datum":2.2e10}}},
 {"data":{"name":"fitA"},"mark":{"type":"line","color":"#777","strokeWidth":1,"strokeDash":[1,1.6]},
  "encoding":{"x":{"field":"v","type":"quantitative","scale":{"domain":[-1.4,1.2],"range":[114,452],"nice":false,"zero":false},"axis":null},
   "y":{"field":"c","type":"quantitative","scale":{"domain":[0,2.2e10],"range":[413,125],"nice":false,"zero":false},"axis":null},"detail":{"field":"s"}}},
 {"data":{"name":"ptsA"},"mark":{"type":"point","size":45,"opacity":1,"strokeWidth":1},
  "encoding":{
   "x":{"field":"v","type":"quantitative","scale":{"domain":[-1.4,1.2],"range":[114,452],"nice":false,"zero":false},
     "axis":{"orient":"bottom","offset":-1102,"values":[-1.2,-0.8,-0.4,0,0.4,0.8,1.2],"labelExpr":"replace(replace(format(datum.value,'.1f'),'.',','),'−','-')","title":"V (V) vs. Ag/AgCl","titleFontSize":19.5,"titlePadding":9,"labelFontSize":15,"labelPadding":5,"tickSize":5,"labelFlush":false,"labelOverlap":false}},
   "y":{"field":"c","type":"quantitative","scale":{"domain":[0,2.2e10],"range":[413,125],"nice":false,"zero":false},
     "axis":{"orient":"left","offset":-114,"values":[0,3e9,6e9,9e9,1.2e10,1.5e10,1.8e10,2.1e10],"labelExpr":"datum.value==0?'0,0':(datum.value>=1e10?replace(format(datum.value/1e10,'.1f'),'.',',')+'x10¹⁰':replace(format(datum.value/1e9,'.1f'),'.',',')+'x10⁹')","title":"1/C² (1/F²)","titleFontSize":21,"titlePadding":5,"titleY":283,"labelFontSize":15,"labelPadding":3,"tickSize":4,"labelFlush":false,"labelOverlap":false}},
   "shape":{"field":"s","type":"nominal","scale":{"domain":["H-P25 (500)","P25 (500)","H-P25 (600)","P25 (600)","H-P25 (700)","P25 (700)","H-P25 (800)","P25 (800)","N-P25 (600)","W-P25 (600)"],"range":["square","square","circle","circle","triangle-up","triangle-up","M0,-1L0.224,-0.309L0.951,-0.309L0.363,0.118L0.588,0.809L0,0.382L-0.588,0.809L-0.363,0.118L-0.951,-0.309L-0.224,-0.309Z","M-0.8,-0.8L0.8,0.8M-0.8,0.8L0.8,-0.8","circle","M-1,0A1,1,0,1,1,1,0A1,1,0,1,1,-1,0ZM-1,0L1,0M0,-1L0,1"]},
     "legend":{"orient":"none","legendX":119,"legendY":130,"title":"(A) NaOH","titleFontSize":15,"titlePadding":22,"labelFontSize":11.5,"symbolOffset":8,"labelOffset":10,"rowPadding":2,"symbolSize":45,"symbolStrokeWidth":1,"padding":0}},
   "fill":{"field":"s","type":"nominal","scale":{"domain":["H-P25 (500)","P25 (500)","H-P25 (600)","P25 (600)","H-P25 (700)","P25 (700)","H-P25 (800)","P25 (800)","N-P25 (600)","W-P25 (600)"],"range":["#000000","#ffffff","#ee1c25","#ffffff","#168516","#ffffff","#5c2583","transparent","#101d7c","#ffffff"]},
     "legend":{"orient":"none","legendX":119,"legendY":130,"title":"(A) NaOH","titleFontSize":15,"titlePadding":22,"labelFontSize":11.5,"symbolOffset":8,"labelOffset":10,"rowPadding":2,"symbolSize":45,"symbolStrokeWidth":1,"padding":0}},
   "stroke":{"field":"s","type":"nominal","scale":{"domain":["H-P25 (500)","P25 (500)","H-P25 (600)","P25 (600)","H-P25 (700)","P25 (700)","H-P25 (800)","P25 (800)","N-P25 (600)","W-P25 (600)"],"range":["#000000","#333333","#d01818","#c0504d","#168516","#1a7a1a","#5c2583","#7a3c8c","#101d7c","#222222"]},
     "legend":{"orient":"none","legendX":119,"legendY":130,"title":"(A) NaOH","titleFontSize":15,"titlePadding":22,"labelFontSize":11.5,"symbolOffset":8,"labelOffset":10,"rowPadding":2,"symbolSize":45,"symbolStrokeWidth":1,"padding":0}}
  }}
],"resolve":{"axis":{"x":"independent","y":"independent"}}},
{"layer":[
 {"data":{"values":[{"frame":"B"}]},"mark":{"type":"rect","fill":"transparent","stroke":"#000","strokeWidth":1.2},
  "encoding":{"x":{"datum":-1.4,"type":"quantitative","scale":{"domain":[-1.4,1.2],"range":[571,910],"nice":false,"zero":false},
     "axis":{"orient":"bottom","offset":-1103,"values":[-1.4,-1.0,-0.6,-0.2,0.2,0.6,1.0],"labels":false,"title":null,"domain":false,"tickSize":3}},"x2":{"datum":1.2},
   "y":{"datum":0,"type":"quantitative","scale":{"domain":[0,2.2e10],"range":[412,124],"nice":false,"zero":false},
     "axis":{"orient":"left","offset":-571,"values":[1.5e9,4.5e9,7.5e9,1.05e10,1.35e10,1.65e10,1.95e10],"labels":false,"title":null,"domain":false,"tickSize":2.5}},"y2":{"datum":2.2e10}}},
 {"data":{"name":"fitB"},"mark":{"type":"line","color":"#777","strokeWidth":1,"strokeDash":[1,1.6]},
  "encoding":{"x":{"field":"v","type":"quantitative","scale":{"domain":[-1.4,1.2],"range":[571,910],"nice":false,"zero":false},"axis":null},
   "y":{"field":"c","type":"quantitative","scale":{"domain":[0,2.2e10],"range":[412,124],"nice":false,"zero":false},"axis":null},"detail":{"field":"s"}}},
 {"data":{"name":"ptsB"},"mark":{"type":"point","size":45,"opacity":1,"strokeWidth":1},
  "encoding":{
   "x":{"field":"v","type":"quantitative","scale":{"domain":[-1.4,1.2],"range":[571,910],"nice":false,"zero":false},
     "axis":{"orient":"bottom","offset":-1103,"values":[-1.2,-0.8,-0.4,0,0.4,0.8,1.2],"labelExpr":"replace(replace(format(datum.value,'.1f'),'.',','),'−','-')","title":"V (V) vs. Ag/AgCl","titleFontSize":19.5,"titlePadding":9,"labelFontSize":15,"labelPadding":5,"tickSize":5,"labelFlush":false,"labelOverlap":false}},
   "y":{"field":"c","type":"quantitative","scale":{"domain":[0,2.2e10],"range":[412,124],"nice":false,"zero":false},
     "axis":{"orient":"left","offset":-571,"values":[0,3e9,6e9,9e9,1.2e10,1.5e10,1.8e10,2.1e10],"labelExpr":"datum.value==0?'0,0':(datum.value>=1e10?replace(format(datum.value/1e10,'.1f'),'.',',')+'x10¹⁰':replace(format(datum.value/1e9,'.1f'),'.',',')+'x10⁹')","title":"1/C² (1/F²)","titleFontSize":21,"titlePadding":5,"titleY":282,"labelFontSize":15,"labelPadding":3,"tickSize":4,"labelFlush":false,"labelOverlap":false}},
   "shape":{"field":"s","type":"nominal","scale":{"domain":["H-P25 (500)","P25 (500)","H-P25 (600)","P25 (600)","H-P25 (700)","P25 (700)","H-P25 (800)","P25 (800)","N-P25 (600)","W-P25 (600)"],"range":["square","square","circle","circle","triangle-up","triangle-up","M0,-1L0.224,-0.309L0.951,-0.309L0.363,0.118L0.588,0.809L0,0.382L-0.588,0.809L-0.363,0.118L-0.951,-0.309L-0.224,-0.309Z","M-0.8,-0.8L0.8,0.8M-0.8,0.8L0.8,-0.8","circle","M-1,0A1,1,0,1,1,1,0A1,1,0,1,1,-1,0ZM-1,0L1,0M0,-1L0,1"]},
     "legend":{"orient":"none","legendX":578,"legendY":129,"title":"(B) +EtOH","titleFontSize":15,"titlePadding":19,"labelFontSize":11.5,"symbolOffset":10,"labelOffset":10,"rowPadding":2,"symbolSize":45,"symbolStrokeWidth":1,"padding":0}},
   "fill":{"field":"s","type":"nominal","scale":{"domain":["H-P25 (500)","P25 (500)","H-P25 (600)","P25 (600)","H-P25 (700)","P25 (700)","H-P25 (800)","P25 (800)","N-P25 (600)","W-P25 (600)"],"range":["#000000","#ffffff","#ee1c25","#ffffff","#168516","#ffffff","#5c2583","transparent","#101d7c","#ffffff"]},
     "legend":{"orient":"none","legendX":578,"legendY":129,"title":"(B) +EtOH","titleFontSize":15,"titlePadding":19,"labelFontSize":11.5,"symbolOffset":10,"labelOffset":10,"rowPadding":2,"symbolSize":45,"symbolStrokeWidth":1,"padding":0}},
   "stroke":{"field":"s","type":"nominal","scale":{"domain":["H-P25 (500)","P25 (500)","H-P25 (600)","P25 (600)","H-P25 (700)","P25 (700)","H-P25 (800)","P25 (800)","N-P25 (600)","W-P25 (600)"],"range":["#000000","#333333","#d01818","#c0504d","#168516","#1a7a1a","#5c2583","#7a3c8c","#101d7c","#222222"]},
     "legend":{"orient":"none","legendX":578,"legendY":129,"title":"(B) +EtOH","titleFontSize":15,"titlePadding":19,"labelFontSize":11.5,"symbolOffset":10,"labelOffset":10,"rowPadding":2,"symbolSize":45,"symbolStrokeWidth":1,"padding":0}}
  }}
],"resolve":{"axis":{"x":"independent","y":"independent"}}},
{"data":{"name":"doc"},"transform":[{"filter":"datum.role=='header'"}],
 "mark":{"type":"text","font":"Liberation Serif","fontSize":17,"color":"#2626b8","align":"center","baseline":"middle"},
 "encoding":{"x":{"datum":480,"type":"quantitative","scale":{"domain":[0,960],"range":[0,960],"nice":false,"zero":false},"axis":null},
  "y":{"field":"ln","type":"quantitative","scale":{"domain":[0,1,2,3,4,5,6,21],"range":[11,517,543,601,626,1095,1122,1501],"nice":false,"zero":false},"axis":null},
  "text":{"field":"text"}}},
{"data":{"values":[{"deco":"underline"}]},
 "mark":{"type":"rule","color":"#2626b8","strokeWidth":1},
 "encoding":{"x":{"datum":95,"type":"quantitative","scale":{"domain":[0,960],"range":[0,960],"nice":false,"zero":false},"axis":null},"x2":{"datum":865},
  "y":{"datum":21,"type":"quantitative","scale":{"domain":[0,1515],"range":[0,1515],"nice":false,"zero":false},"axis":null}}},
{"data":{"name":"doc"},"transform":[{"filter":"datum.role=='centered'"}],
 "mark":{"type":"text","font":"Liberation Serif","fontSize":21.3,"color":"#000","align":"center","baseline":"middle"},
 "encoding":{"x":{"datum":478,"type":"quantitative","scale":{"domain":[0,960],"range":[0,960],"nice":false,"zero":false},"axis":null},
  "y":{"field":"ln","type":"quantitative","scale":{"domain":[0,1,2,3,4,5,6,21],"range":[11,517,543,601,626,1095,1122,1501],"nice":false,"zero":false},"axis":null},
  "text":{"field":"text"}}},
{"data":{"name":"doc"},"transform":[{"filter":"datum.role=='label'"}],
 "mark":{"type":"text","font":"Liberation Serif","fontSize":21,"fontWeight":"bold","color":"#000","align":"left","baseline":"middle"},
 "encoding":{"x":{"field":"col","type":"quantitative","scale":{"domain":[0,1,2,3,4,5,6,7,8,9],"range":[27,112,37,140,207,230,282,298,0,192],"nice":false,"zero":false},"axis":null},
  "y":{"field":"ln","type":"quantitative","scale":{"domain":[0,1,2,3,4,5,6,21],"range":[11,517,543,601,626,1095,1122,1501],"nice":false,"zero":false},"axis":null},
  "text":{"field":"text"}}},
{"data":{"name":"doc"},"transform":[{"filter":"datum.role=='body'"}],
 "mark":{"type":"text","font":"Liberation Serif","fontSize":21,"color":"#000","align":"left","baseline":"middle"},
 "encoding":{"x":{"field":"col","type":"quantitative","scale":{"domain":[0,1,2,3,4,5,6,7,8,9],"range":[27,112,37,140,207,230,282,298,0,192],"nice":false,"zero":false},"axis":null},
  "y":{"field":"ln","type":"quantitative","scale":{"domain":[0,1,2,3,4,5,6,21],"range":[11,517,543,601,626,1095,1122,1501],"nice":false,"zero":false},"axis":null},
  "text":{"field":"text"}}},
{"data":{"name":"doc"},"transform":[{"filter":"datum.role=='word'"}],
 "mark":{"type":"text","font":"Liberation Serif","fontSize":21,"color":"#000","align":"left","baseline":"middle"},
 "encoding":{"x":{"field":"w","type":"quantitative","scale":{"domain":[0,1,2,3,4,5,6,7,8,9,10,11,12,13,14,15,16,17,18,19,20,21,22,23,24,25,26,27,28,29],"range":[0,45,69,114,147.5,219,251.5,323,365.5,475.5,557,692,827,868,906,934,0,127,175.5,224.5,282.5,331,380,418.5,457,604,682,760,825,860],"nice":false,"zero":false},"axis":null},
  "y":{"field":"ln","type":"quantitative","scale":{"domain":[0,1,2,3,4,5,6,21],"range":[11,517,543,601,626,1095,1122,1501],"nice":false,"zero":false},"axis":null},
  "text":{"field":"text"}}},
{"data":{"name":"doc"},"transform":[{"filter":"datum.role=='sub'"}],
 "mark":{"type":"text","font":"Liberation Serif","fontSize":14,"color":"#000","align":"left","baseline":"middle","dy":5},
 "encoding":{"x":{"field":"col","type":"quantitative","scale":{"domain":[0,1,2,3,4,5,6,7,8,9],"range":[27,112,37,140,207,230,282,298,0,192],"nice":false,"zero":false},"axis":null},
  "y":{"field":"ln","type":"quantitative","scale":{"domain":[0,1,2,3,4,5,6,21],"range":[11,517,543,601,626,1095,1122,1501],"nice":false,"zero":false},"axis":null},
  "text":{"field":"text"}}},
{"data":{"name":"grid"},"transform":[{"filter":"datum.t=='A'"}],
 "mark":{"type":"rule","color":"#222","strokeWidth":1.2},
 "encoding":{"x":{"field":"x0","type":"quantitative","scale":{"domain":[0,1,2,3],"range":[57,190,282,447],"nice":false,"zero":false},"axis":null},"x2":{"field":"x1"},
  "y":{"field":"y0","type":"quantitative","scale":{"domain":[0,1,12],"range":[653,710,1040],"nice":false,"zero":false},"axis":null},"y2":{"field":"y1"}}},
{"data":{"name":"grid"},"transform":[{"filter":"datum.t=='B'"}],
 "mark":{"type":"rule","color":"#222","strokeWidth":1.2},
 "encoding":{"x":{"field":"x0","type":"quantitative","scale":{"domain":[0,1,2,3],"range":[476,642,735,893],"nice":false,"zero":false},"axis":null},"x2":{"field":"x1"},
  "y":{"field":"y0","type":"quantitative","scale":{"domain":[0,1,12],"range":[651,709.5,1036],"nice":false,"zero":false},"axis":null},"y2":{"field":"y1"}}},
{"data":{"name":"tab"},"transform":[{"filter":"datum.t=='A' && datum.role=='cell'"}],
 "mark":{"type":"text","font":"Liberation Serif","fontSize":21,"color":"#000","align":"left","baseline":"middle"},
 "encoding":{"x":{"field":"c","type":"quantitative","scale":{"domain":[0,1,2],"range":[68,201,292],"nice":false,"zero":false},"axis":null},
  "y":{"field":"r","type":"quantitative","scale":{"domain":[0,1,11],"range":[667,725,1025],"nice":false,"zero":false},"axis":null},
  "text":{"field":"text"}}},
{"data":{"name":"tab"},"transform":[{"filter":"datum.t=='A' && datum.role=='sub'"}],
 "mark":{"type":"text","font":"Liberation Serif","fontSize":13.5,"color":"#000","align":"left","baseline":"middle","dy":6},
 "encoding":{"x":{"field":"c","type":"quantitative","scale":{"domain":[1,2],"range":[216,307],"nice":false,"zero":false},"axis":null},
  "y":{"field":"r","type":"quantitative","scale":{"domain":[0,1,11],"range":[667,725,1025],"nice":false,"zero":false},"axis":null},
  "text":{"field":"text"}}},
{"data":{"name":"tab"},"transform":[{"filter":"datum.t=='A' && datum.role=='tail'"}],
 "mark":{"type":"text","font":"Liberation Serif","fontSize":21,"color":"#000","align":"left","baseline":"middle"},
 "encoding":{"x":{"field":"c","type":"quantitative","scale":{"domain":[1,2],"range":[237,317],"nice":false,"zero":false},"axis":null},
  "y":{"field":"r","type":"quantitative","scale":{"domain":[0,1,11],"range":[667,725,1025],"nice":false,"zero":false},"axis":null},
  "text":{"field":"text"}}},
{"data":{"name":"tab"},"transform":[{"filter":"datum.t=='B' && datum.role=='cell'"}],
 "mark":{"type":"text","font":"Liberation Serif","fontSize":21,"color":"#000","align":"left","baseline":"middle"},
 "encoding":{"x":{"field":"c","type":"quantitative","scale":{"domain":[0,1,2],"range":[488,648,742],"nice":false,"zero":false},"axis":null},
  "y":{"field":"r","type":"quantitative","scale":{"domain":[0,1,11],"range":[666,724,1021],"nice":false,"zero":false},"axis":null},
  "text":{"field":"text"}}},
{"data":{"name":"tab"},"transform":[{"filter":"datum.t=='B' && datum.role=='sub'"}],
 "mark":{"type":"text","font":"Liberation Serif","fontSize":13.5,"color":"#000","align":"left","baseline":"middle","dy":6},
 "encoding":{"x":{"field":"c","type":"quantitative","scale":{"domain":[1,2],"range":[663,757],"nice":false,"zero":false},"axis":null},
  "y":{"field":"r","type":"quantitative","scale":{"domain":[0,1,11],"range":[666,724,1021],"nice":false,"zero":false},"axis":null},
  "text":{"field":"text"}}},
{"data":{"name":"tab"},"transform":[{"filter":"datum.t=='B' && datum.role=='tail'"}],
 "mark":{"type":"text","font":"Liberation Serif","fontSize":21,"color":"#000","align":"left","baseline":"middle"},
 "encoding":{"x":{"field":"c","type":"quantitative","scale":{"domain":[1,2],"range":[684,767],"nice":false,"zero":false},"axis":null},
  "y":{"field":"r","type":"quantitative","scale":{"domain":[0,1,11],"range":[666,724,1021],"nice":false,"zero":false},"axis":null},
  "text":{"field":"text"}}}
],
"resolve":{"scale":{"x":"independent","y":"independent","shape":"independent","fill":"independent","stroke":"independent"},"axis":{"x":"independent","y":"independent"},"legend":{"shape":"independent","fill":"independent","stroke":"independent"}}
}
